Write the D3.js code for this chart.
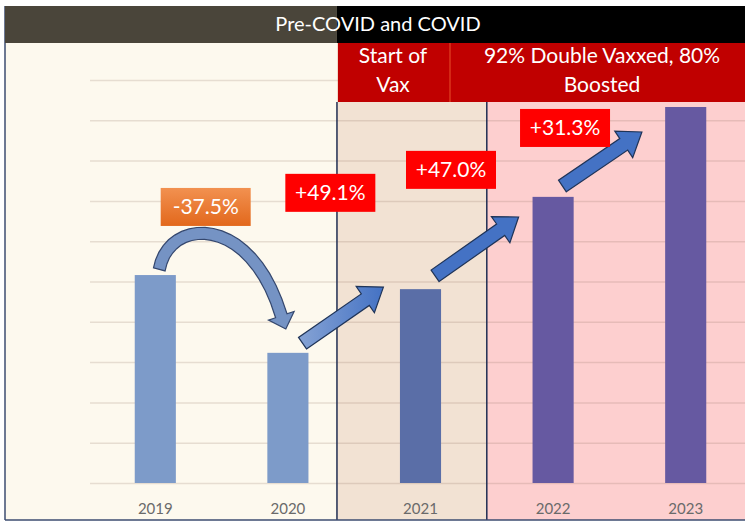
<!DOCTYPE html>
<html>
<head>
<meta charset="utf-8">
<script src="https://cdn.jsdelivr.net/npm/d3@7"></script>
<style>
  body { margin: 0; background: #fff; }
  svg { display: block; font-family: Lato, "Open Sans", sans-serif; }
</style>
</head>
<body>
<div id="chart"></div>
<script>
// Data
var years = ["2019", "2020", "2021", "2022", "2023"];
var values = [5.16, 3.23, 4.81, 7.10, 9.33];
var changes = ["-37.5%", "+49.1%", "+47.0%", "+31.3%"];
var yTicks = [0, 1, 2, 3, 4, 5, 6, 7, 8, 9, 10];
var barColors = ["#7d9bc9", "#7d9bc9", "#5a6ea7", "#6659a1", "#6659a1"];
var changeColors = ["#ea7630", "#ff0000", "#ff0000", "#ff0000"];

var svgWidth = 745;
var svgHeight = 523;

var svg = d3.select("#chart")
  .append("svg")
  .attr("width", svgWidth)
  .attr("height", svgHeight);

var defs = svg.append("defs");

var orangeGrad = defs.append("linearGradient")
  .attr("id", "orangeGrad").attr("x1", 0).attr("y1", 0).attr("x2", 0).attr("y2", 1);
orangeGrad.append("stop").attr("offset", "0%").attr("stop-color", "#f29150");
orangeGrad.append("stop").attr("offset", "100%").attr("stop-color", "#e2681c");

var arrowGrad = defs.append("linearGradient")
  .attr("id", "arrowGrad").attr("x1", 0).attr("y1", 0).attr("x2", 1).attr("y2", 0);
arrowGrad.append("stop").attr("offset", "0%").attr("stop-color", "#86a3d4");
arrowGrad.append("stop").attr("offset", "100%").attr("stop-color", "#4472c4");

// scales
var x = d3.scaleBand()
  .domain(years)
  .range([89, 752])
  .paddingInner(0.69)
  .paddingOuter(0.345);

var y = d3.scaleLinear()
  .domain([0, 10])
  .range([483, 80]);

var step = x.step();
function cx(i) { return x(years[i]) + x.bandwidth() / 2; }
// point between category i and i+1, f = fraction of the step, v = value units
function pt(i, f, v) { return [cx(i) + f * step, y(v)]; }

// period boundaries
var covidStart = cx(1) + 0.37 * step;
var vaxStart = cx(2) + 0.5 * step;

// background panels
svg.append("rect").attr("x", 5).attr("y", 43).attr("width", covidStart - 5).attr("height", 477)
  .attr("fill", "#fdf9ee");
svg.append("rect").attr("x", covidStart).attr("y", 43).attr("width", vaxStart - covidStart).attr("height", 477)
  .attr("fill", "#f2e2d3");
svg.append("rect").attr("x", vaxStart).attr("y", 43).attr("width", svgWidth - vaxStart).attr("height", 477)
  .attr("fill", "#fdcfcf");

// gridlines
var grid = svg.append("g")
  .attr("transform", "translate(90,0)")
  .call(d3.axisLeft(y).tickValues(yTicks).tickSize(-(svgWidth - 90)).tickFormat(""));
grid.select(".domain").remove();
grid.selectAll(".tick line")
  .attr("stroke", "#8a7060")
  .attr("stroke-opacity", 0.2)
  .attr("stroke-width", 1.5);

// bars
svg.append("g").selectAll("rect")
  .data(values)
  .enter().append("rect")
  .attr("x", (d, i) => x(years[i]))
  .attr("y", d => y(d))
  .attr("width", x.bandwidth())
  .attr("height", d => y(0) - y(d))
  .attr("fill", (d, i) => barColors[i]);

// x labels
var xAxis = svg.append("g")
  .attr("transform", "translate(0,500)")
  .call(d3.axisBottom(x).tickSize(0).tickPadding(3));
xAxis.select(".domain").remove();
xAxis.selectAll("text")
  .attr("font-size", 15)
  .attr("fill", "#6a6a6a")
  .attr("font-family", "Lato, sans-serif");

// separators
[covidStart, vaxStart].forEach(function(sx) {
  svg.append("line")
    .attr("x1", sx).attr("x2", sx).attr("y1", 102).attr("y2", 520)
    .attr("stroke", "#1f2d52").attr("stroke-width", 1.5);
});

// frame
svg.append("line").attr("x1", 5).attr("x2", 5).attr("y1", 6).attr("y2", 520)
  .attr("stroke", "#3d4d70").attr("stroke-width", 1.5);
svg.append("line").attr("x1", 5).attr("x2", svgWidth).attr("y1", 520).attr("y2", 520)
  .attr("stroke", "#3d4d70").attr("stroke-width", 1.5);

// title bar
svg.append("rect").attr("x", 5).attr("y", 6).attr("width", covidStart - 5).attr("height", 37)
  .attr("fill", "#4a453a");
svg.append("rect").attr("x", covidStart).attr("y", 6).attr("width", svgWidth - covidStart).attr("height", 37)
  .attr("fill", "#000");
svg.append("text")
  .attr("x", 378).attr("y", 31)
  .attr("text-anchor", "middle")
  .attr("fill", "#fff")
  .attr("font-size", 20)
  .attr("font-family", "Lato, sans-serif")
  .text("Pre-COVID and COVID");

// red header band
svg.append("rect").attr("x", covidStart + 1).attr("y", 43).attr("width", svgWidth - covidStart).attr("height", 59)
  .attr("fill", "#c00000");
svg.append("line").attr("x1", 450).attr("x2", 450).attr("y1", 43).attr("y2", 102)
  .attr("stroke", "#e8502a").attr("stroke-width", 1);

var headers = [
  { cxp: 393, lines: ["Start of", "Vax"] },
  { cxp: 602, lines: ["92% Double Vaxxed, 80%", "Boosted"] }
];
headers.forEach(function(h) {
  h.lines.forEach(function(l, j) {
    svg.append("text")
      .attr("x", h.cxp).attr("y", 63 + j * 29)
      .attr("text-anchor", "middle")
      .attr("fill", "#fff")
      .attr("font-size", 21)
      .text(l);
  });
});

// block arrow from a centre line
function blockArrow(pts, shaftW, headW, headL) {
  var n = pts.length;
  var left = [], right = [];
  pts.forEach(function(p, k) {
    var a = pts[Math.max(0, k - 1)], b = pts[Math.min(n - 1, k + 1)];
    var dx = b[0] - a[0], dy = b[1] - a[1], len = Math.hypot(dx, dy);
    var nx = -dy / len, ny = dx / len;
    left.push([p[0] + nx * shaftW / 2, p[1] + ny * shaftW / 2]);
    right.push([p[0] - nx * shaftW / 2, p[1] - ny * shaftW / 2]);
  });
  var end = pts[n - 1], prev = pts[n - 2];
  var dx = end[0] - prev[0], dy = end[1] - prev[1], len = Math.hypot(dx, dy);
  var ux = dx / len, uy = dy / len, nx = -uy, ny = ux;
  var tip = [end[0] + ux * headL, end[1] + uy * headL];
  var poly = left.concat([
    [end[0] + nx * headW / 2, end[1] + ny * headW / 2],
    tip,
    [end[0] - nx * headW / 2, end[1] - ny * headW / 2]
  ]).concat(right.reverse());
  return "M" + poly.map(p => p[0].toFixed(1) + "," + p[1].toFixed(1)).join("L") + "Z";
}

// curved arrow 2019 -> 2020
var c0 = pt(0, 0.03, 5.3), c1 = pt(0, 0.1, 6.6), c2 = pt(0, 0.72, 6.7), c3 = pt(0, 0.95, 4.15);
var curve = d3.range(0, 1.0001, 0.05).map(function(t) {
  var mt = 1 - t;
  return [
    mt * mt * mt * c0[0] + 3 * mt * mt * t * c1[0] + 3 * mt * t * t * c2[0] + t * t * t * c3[0],
    mt * mt * mt * c0[1] + 3 * mt * mt * t * c1[1] + 3 * mt * t * t * c2[1] + t * t * t * c3[1]
  ];
});
svg.append("path")
  .attr("d", blockArrow(curve, 12, 27, 14))
  .attr("fill", "#7593c4")
  .attr("stroke", "#34476e")
  .attr("stroke-width", 1.2);

// straight arrows between later years
var arrows = [
  [pt(1, 0.11, 3.47), pt(1, 0.72, 4.86)],
  [pt(2, 0.11, 5.14), pt(2, 0.74, 6.60)],
  [pt(3, 0.07, 7.37), pt(3, 0.67, 8.71)]
];
arrows.forEach(function(a, k) {
  var dx = a[1][0] - a[0][0], dy = a[1][1] - a[0][1], len = Math.hypot(dx, dy);
  var headL = 22;
  var base = [a[1][0] - dx / len * headL, a[1][1] - dy / len * headL];
  svg.append("path")
    .attr("d", blockArrow([a[0], base], 14, 32, headL))
    .attr("fill", k === 0 ? "url(#arrowGrad)" : "#4472c4")
    .attr("stroke", "#1f3458")
    .attr("stroke-width", 1.2);
});

// change labels
var labelPos = [[0, 0.38, 6.85], [1, 0.32, 7.2], [2, 0.23, 7.77], [3, 0.09, 8.81]];
changes.forEach(function(c, i) {
  var p = pt(labelPos[i][0], labelPos[i][1], labelPos[i][2]);
  var g = svg.append("g").attr("transform", `translate(${p[0]},${p[1]})`);
  g.append("rect")
    .attr("x", -45).attr("y", -19)
    .attr("width", 90).attr("height", 38)
    .attr("fill", i === 0 ? "url(#orangeGrad)" : changeColors[i]);
  g.append("text")
    .attr("text-anchor", "middle")
    .attr("dy", "0.35em")
    .attr("fill", "#fff")
    .attr("font-size", 21)
    .text(c);
});
</script>
</body>
</html>
